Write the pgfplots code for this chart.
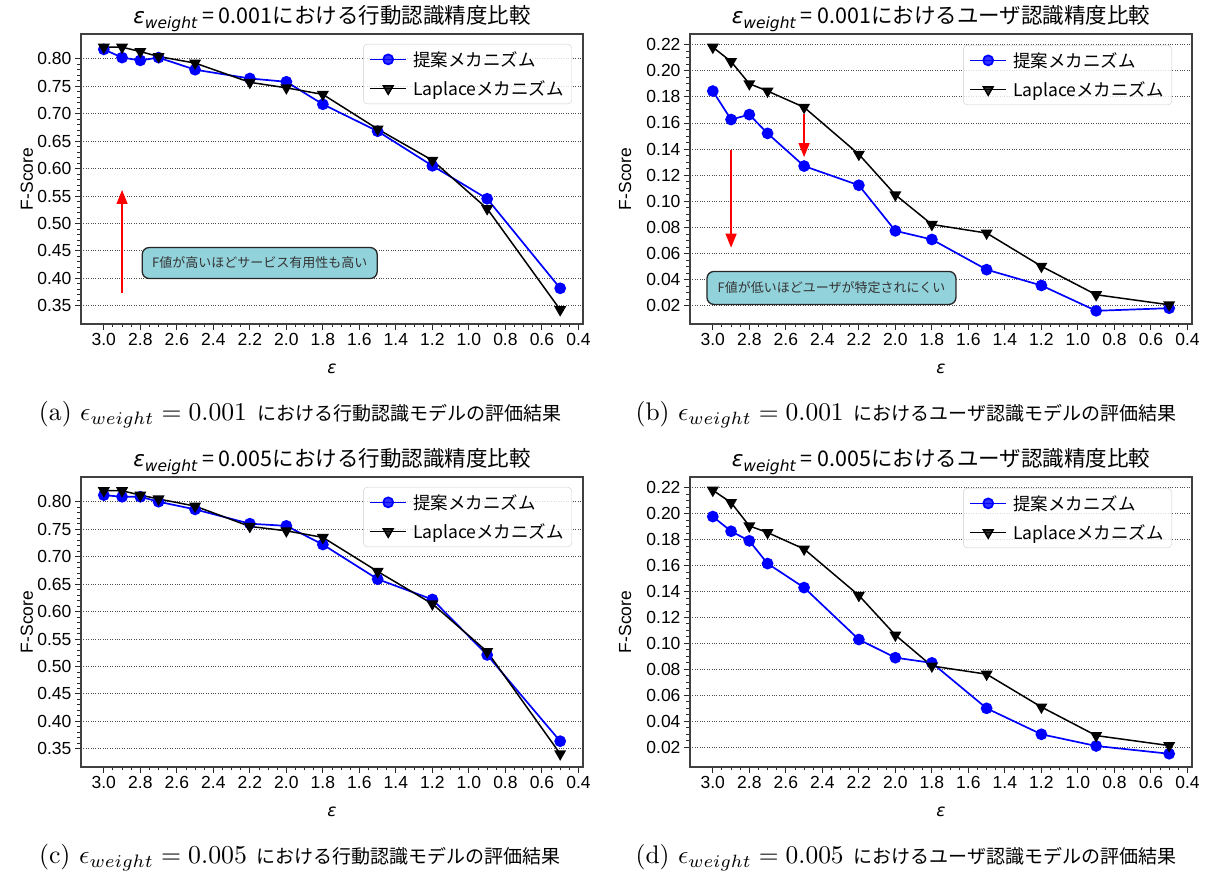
\documentclass[border=0pt]{standalone}
\usepackage{graphicx}
\usepackage{fontspec}
\usepackage{pgfplots}
\pgfplotsset{compat=1.18}
\usetikzlibrary{arrows.meta}
\newfontfamily\jp{Noto Sans CJK JP}
\newfontfamily\lib{Liberation Sans}
\newfontfamily\djv{DejaVu Sans}
\definecolor{boxfill}{RGB}{146,210,219}

\pgfplotstableread{
x    p      l
3.0  0.817  0.821
2.9  0.802  0.821
2.8  0.797  0.813
2.7  0.802  0.804
2.5  0.780  0.792
2.2  0.764  0.757
2.0  0.758  0.747
1.8  0.717  0.735
1.5  0.668  0.672
1.2  0.605  0.615
0.9  0.545  0.527
0.5  0.382  0.343
}\tabA
\pgfplotstableread{
x    p       l
3.0  0.1844  0.2180
2.9  0.1626  0.2070
2.8  0.1664  0.1900
2.7  0.1520  0.1844
2.5  0.1270  0.1720
2.2  0.1123  0.1360
2.0  0.0774  0.1050
1.8  0.0708  0.0823
1.5  0.0477  0.0757
1.2  0.0356  0.0503
0.9  0.0162  0.0285
0.5  0.0182  0.0208
}\tabB
\pgfplotstableread{
x    p      l
3.0  0.812  0.820
2.9  0.809  0.820
2.8  0.809  0.812
2.7  0.800  0.805
2.5  0.786  0.792
2.2  0.760  0.755
2.0  0.756  0.747
1.8  0.722  0.735
1.5  0.659  0.673
1.2  0.622  0.614
0.9  0.521  0.527
0.5  0.364  0.341
}\tabC
\pgfplotstableread{
x    p       l
3.0  0.1977  0.2180
2.9  0.1864  0.2085
2.8  0.1790  0.1905
2.7  0.1615  0.1854
2.5  0.1430  0.1727
2.2  0.1030  0.1370
2.0  0.0890  0.1064
1.8  0.0850  0.0826
1.5  0.0500  0.0763
1.2  0.0300  0.0510
0.9  0.0210  0.0290
0.5  0.0150  0.0213
}\tabD

\newcommand{\ew}{{\djv\itshape ε\raisebox{-4.5pt}{\fontsize{15.5}{15.5}\selectfont weight}}\hspace{5pt}}
\newcommand{\subcap}[3]{\resizebox{208pt}{!}{(#1) $\epsilon_{weight} = #2$}\hspace{10pt}{\jp\fontsize{19}{19}\selectfont #3}}

\pgfplotsset{
  base/.style={
    scale only axis, width=502pt, height=290pt,
    x dir=reverse, xmin=0.375, xmax=3.125,
    xtick={0.4,0.6,0.8,1.0,1.2,1.4,1.6,1.8,2.0,2.2,2.4,2.6,2.8,3.0},
    minor x tick num=3,
    tick align=outside, tick pos=left,
    major tick length=6pt, minor tick length=3.5pt,
    every tick/.style={black!85, line width=0.9pt},
    axis line style={black!75, line width=1.2pt},
    ymajorgrids,
    major grid style={black!70, dotted, line width=0.9pt},
    /pgf/number format/assume math mode=true,
    ticklabel style={font=\lib\fontsize{17.5}{17.5}\selectfont},
    xticklabel style={/pgf/number format/.cd, fixed, fixed zerofill, precision=1},
    yticklabel style={/pgf/number format/.cd, fixed, fixed zerofill, precision=2},
    xlabel={{\djv\itshape ε}},
    xlabel style={font=\fontsize{17}{17}\selectfont, at={(axis description cs:0.5,0)}, anchor=center, yshift=-45pt},
    ylabel={F-Score},
    ylabel style={font=\lib\fontsize{17.5}{17.5}\selectfont, anchor=center},
    title style={font=\jp\fontsize{21.5}{24}\selectfont, at={(axis description cs:0.5,1)}, anchor=base, yshift=4pt, inner sep=0pt},
    legend cell align=left,
    legend image code/.code={\draw[mark repeat=2,mark phase=2,##1] plot coordinates {(0pt,0pt) (18pt,0pt) (36pt,0pt)};},
    legend style={font=\jp\fontsize{17.5}{20}\selectfont, draw=black!20, rounded corners=4pt,
      fill=white, fill opacity=0.8, text opacity=1, draw opacity=1,
      inner xsep=6pt, inner ysep=5pt, row sep=9pt, anchor=north east,
      /tikz/every odd column/.append style={column sep=4pt}},
  },
  pstyle/.style={color=blue, line width=1.7pt, mark=*, mark size=5pt, mark options={fill=blue, draw=blue}},
  lstyle/.style={color=black, line width=1.5pt, mark=triangle*, mark size=5.5pt, mark options={fill=black, draw=black, rotate=180}},
  behav/.style={ymin=0.317, ymax=0.845, ytick={0.35,0.40,0.45,0.50,0.55,0.60,0.65,0.70,0.75,0.80}, minor y tick num=4,
    ylabel style={at={(axis description cs:-0.1076,0.5)}}},
  user/.style={ytick={0.02,0.04,0.06,0.08,0.10,0.12,0.14,0.16,0.18,0.20,0.22}, minor y tick num=3,
    ylabel style={at={(axis description cs:-0.1295,0.5)}}},
}

\begin{document}
\begin{tikzpicture}
\useasboundingbox (0pt,0pt) rectangle (1208pt,873pt);

% (a)
\begin{axis}[base, behav, at={(81pt,549pt)}, anchor=south west,
  title={\ew= 0.001における行動認識精度比較},
  legend style={at={(1,1)}, xshift=-11pt, yshift=-10pt}]
\addplot[pstyle] table[x=x,y=p]{\tabA};
\addlegendentry{提案メカニズム}
\addplot[lstyle] table[x=x,y=l]{\tabA};
\addlegendentry{Laplaceメカニズム}
\draw[red, line width=1.2pt, -{Triangle[length=14pt,width=11pt]}] (axis cs:2.9,0.373) -- (axis cs:2.9,0.561);
\node[draw=black!85, fill=boxfill, rounded corners=7pt, line width=1.3pt, font=\jp\fontsize{13}{13}\selectfont, text=black!80, minimum width=235pt, minimum height=31pt, inner sep=0pt] at (axis cs:2.146,0.428) {F値が高いほどサービス有用性も高い};
\end{axis}

% (b)
\begin{axis}[base, user, ymin=0.0061, ymax=0.2281, at={(690pt,549pt)}, anchor=south west,
  title={\ew= 0.001におけるユーザ認識精度比較},
  legend style={at={(1,1)}, xshift=-20pt, yshift=-11pt}]
\addplot[pstyle] table[x=x,y=p]{\tabB};
\addlegendentry{提案メカニズム}
\addplot[lstyle] table[x=x,y=l]{\tabB};
\addlegendentry{Laplaceメカニズム}
\draw[red, line width=1.2pt, -{Triangle[length=14pt,width=11pt]}] (axis cs:2.9,0.139) -- (axis cs:2.9,0.0645);
\draw[red, line width=1.2pt, -{Triangle[length=14pt,width=11pt]}] (axis cs:2.5,0.1665) -- (axis cs:2.5,0.1339);
\node[draw=black!85, fill=boxfill, rounded corners=7pt, line width=1.3pt, font=\jp\fontsize{13}{13}\selectfont, text=black!80, minimum width=249pt, minimum height=33pt, inner sep=0pt] at (axis cs:2.35,0.0337) {F値が低いほどユーザが特定されにくい};
\end{axis}

% (c)
\begin{axis}[base, behav, at={(81pt,106pt)}, anchor=south west,
  title={\ew= 0.005における行動認識精度比較},
  legend style={at={(1,1)}, xshift=-11pt, yshift=-10pt}]
\addplot[pstyle] table[x=x,y=p]{\tabC};
\addlegendentry{提案メカニズム}
\addplot[lstyle] table[x=x,y=l]{\tabC};
\addlegendentry{Laplaceメカニズム}
\end{axis}

% (d)
\begin{axis}[base, user, ymin=0.0048, ymax=0.2282, at={(690pt,106pt)}, anchor=south west,
  title={\ew= 0.005におけるユーザ認識精度比較},
  legend style={at={(1,1)}, xshift=-20pt, yshift=-11pt}]
\addplot[pstyle] table[x=x,y=p]{\tabD};
\addlegendentry{提案メカニズム}
\addplot[lstyle] table[x=x,y=l]{\tabD};
\addlegendentry{Laplaceメカニズム}
\end{axis}

% captions
\node[anchor=base] at (300pt,452pt) {\subcap{a}{0.001}{における行動認識モデルの評価結果}};
\node[anchor=base] at (906pt,452pt) {\subcap{b}{0.001}{におけるユーザ認識モデルの評価結果}};
\node[anchor=base] at (300pt,9pt) {\subcap{c}{0.005}{における行動認識モデルの評価結果}};
\node[anchor=base] at (906pt,9pt) {\subcap{d}{0.005}{におけるユーザ認識モデルの評価結果}};
\end{tikzpicture}
\end{document}
